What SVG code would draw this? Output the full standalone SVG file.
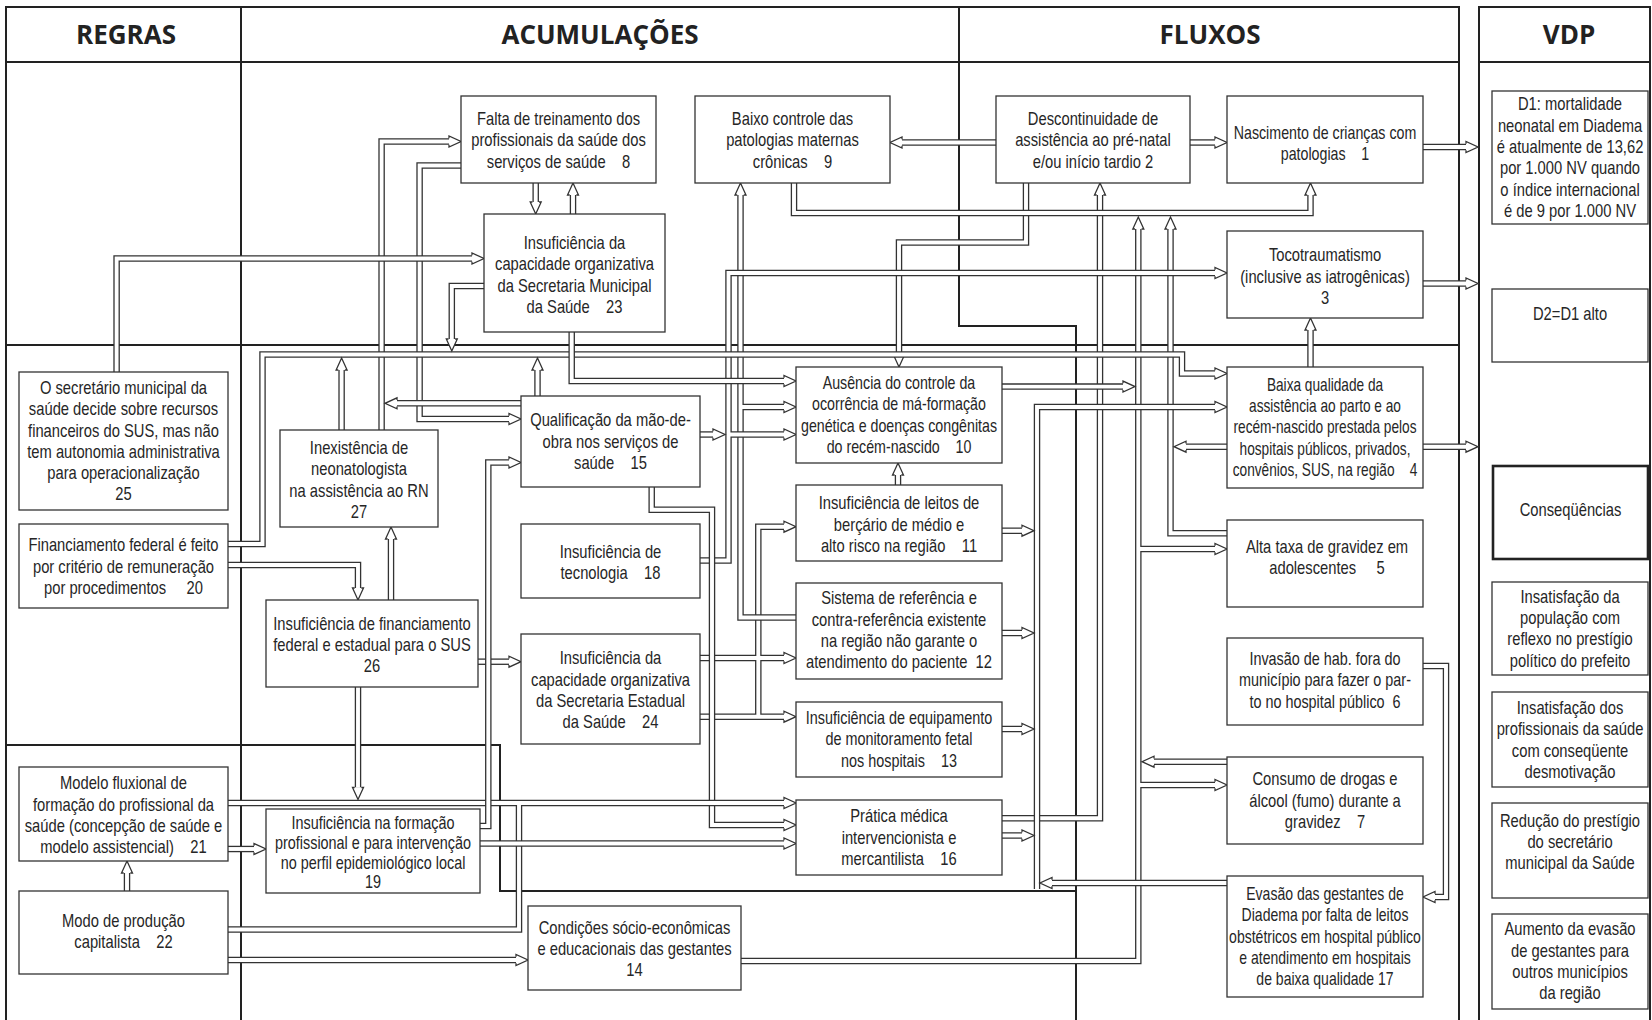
<svg xmlns="http://www.w3.org/2000/svg" xmlns:xlink="http://www.w3.org/1999/xlink" width="1652" height="1020" viewBox="0 0 1652 1020">
<style>
.f{fill:none;stroke:#222;stroke-width:2}
.n rect{fill:#fff;stroke:#333;stroke-width:1.3}
.n text{font-family:"Liberation Sans",Arial,sans-serif;font-size:18px;fill:#262626;text-anchor:middle;white-space:pre}
.h{font-family:"Open Sans","Liberation Sans",sans-serif;font-weight:700;font-size:26px;fill:#222;text-anchor:middle}
.o{fill:none;stroke:#333;stroke-width:6.5}
.i{fill:none;stroke:#fff;stroke-width:3.9}
</style>
<defs>
<path id="ah" d="M-12,-3.3 L-12,-5.5 L0,0 L-12,5.5 L-12,3.3" fill="#fff" stroke="#333" stroke-width="1.3"/>
<path id="p1138" d="M741,961 H1138.3 V229 M1138.3,549 H1215 M1138.3,785 H1215"/>
<path id="p7" d="M1227,761.7 H1154"/>
<path id="p1170" d="M1227,533.3 H1170.5 V229"/>
<path id="p4l" d="M1227,446.7 H1186"/>
<path id="p16_2" d="M1002,818.3 H1100 V195"/>
<path id="p2_10" d="M1026,183 V242.5 H899 V355"/>
<path id="p24" d="M700,658 H784 M700,716.7 H784 M758.3,716.7 V526.7 H784"/>
<path id="p12" d="M796,617.5 H740.5 V195 M740.5,407 H784"/>
<path id="p18" d="M700,560.5 H728.5 V273 H1215 M728.5,434.5 H784"/>
<path id="p15a" d="M700,434.5 H713"/>
<path id="p9_1" d="M794,183 V213 H1310.5 V195"/>
<path id="p15_16" d="M651.7,487 V509.7 H712 V825 H784"/>
<path id="p21_16" d="M228,803 H784 M228,929.5 H519 V803"/>
<path id="p19_16" d="M480,843.5 H784"/>
<path id="p26_24" d="M478,661.7 H509"/>
<path id="p19_15" d="M480,826 H488.3 V462.5 H509"/>
<path id="p27_8" d="M381.6,430 V141.5 H449"/>
<path id="p8_15" d="M461,165.5 H419.6 V419 H509"/>
<path id="pbus" d="M228,544 H262.5 V354.5 H1182 V373.5 H1215"/>
<path id="p27b" d="M341.6,430 V370"/>
<path id="p15b" d="M537.5,396 V370"/>
<path id="p23b" d="M484,286 H451.8 V339"/>
<path id="p25_23" d="M116.6,372 V258.5 H472"/>
<path id="p15l" d="M521,403.3 H397"/>
<path id="p23_10" d="M571.7,332 V381 H784"/>
<path id="p10_1138" d="M1002,386.6 H1123"/>
<path id="pcol" d="M1037,889 V407 H1215 M1002,530.7 H1022 M1002,633 H1022 M1002,729 H1022 M1002,835.5 H1022"/>
<path id="p17" d="M1227,883 H1052"/>
<path id="p2_9" d="M996,142.5 H902"/>
<path id="p2_1" d="M1190,142.5 H1215"/>
<path id="p1V" d="M1423,147 H1466"/>
<path id="p3V" d="M1423,283.5 H1466"/>
<path id="p4V" d="M1423,446.7 H1466"/>
<path id="p8_23" d="M535.7,183 V202"/>
<path id="p23_8" d="M573,214 V195"/>
<path id="p4_3" d="M1310.5,367 V330"/>
<path id="p11_10" d="M898,485 V475"/>
<path id="p20_26" d="M228,565 H358 V588"/>
<path id="p26_27" d="M391,600 V539"/>
<path id="p26_19" d="M358,687 V787.5"/>
<path id="p21_19" d="M228,849 H254"/>
<path id="p22_14" d="M228,960 H516"/>
<path id="p22_21" d="M127,891 V873"/>
<path id="p6_17" d="M1423,666 H1446 V897 H1435"/>
</defs>
<rect width="1652" height="1020" fill="#fff"/>
<g id="frame" class="f">
<path d="M6,1020 V7 H1459 V1020"/>
<path d="M6,62 H1459 M241,7 V1020 M959,7 V326 H1076 V1020 M6,345 H1459 M6,745 H500 V891 H1076"/>
<path d="M1479,1020 V7 H1650 V1020 M1479,62 H1650"/>
</g>
<g id="headers">
<text class="h" x="126" y="44">REGRAS</text>
<text class="h" x="600" y="44">ACUMULAÇÕES</text>
<text class="h" x="1210" y="44">FLUXOS</text>
<text class="h" x="1569" y="44">VDP</text>
</g>
<g id="connectors">
<g><use href="#p1138" class="o"/><use href="#p1138" class="i"/><use href="#ah" transform="translate(1138.3,217) rotate(-90)"/><use href="#ah" transform="translate(1227,549)"/><use href="#ah" transform="translate(1227,785)"/></g>
<g><use href="#p7" class="o"/><use href="#p7" class="i"/><use href="#ah" transform="translate(1142,761.7) rotate(180)"/></g>
<g><use href="#p1170" class="o"/><use href="#p1170" class="i"/><use href="#ah" transform="translate(1170.5,217) rotate(-90)"/></g>
<g><use href="#p4l" class="o"/><use href="#p4l" class="i"/><use href="#ah" transform="translate(1174,446.7) rotate(180)"/></g>
<g><use href="#p16_2" class="o"/><use href="#p16_2" class="i"/><use href="#ah" transform="translate(1100,183) rotate(-90)"/></g>
<g><use href="#p2_10" class="o"/><use href="#p2_10" class="i"/><use href="#ah" transform="translate(899,367) rotate(90)"/></g>
<g><use href="#p24" class="o"/><use href="#p24" class="i"/><use href="#ah" transform="translate(796,658)"/><use href="#ah" transform="translate(796,716.7)"/><use href="#ah" transform="translate(796,526.7)"/></g>
<g><use href="#p12" class="o"/><use href="#p12" class="i"/><use href="#ah" transform="translate(740.5,183) rotate(-90)"/><use href="#ah" transform="translate(796,407)"/></g>
<g><use href="#p18" class="o"/><use href="#p18" class="i"/><use href="#ah" transform="translate(1227,273)"/><use href="#ah" transform="translate(796,434.5)"/></g>
<g><use href="#p15a" class="o"/><use href="#p15a" class="i"/><use href="#ah" transform="translate(725,434.5)"/></g>
<g><use href="#p9_1" class="o"/><use href="#p9_1" class="i"/><use href="#ah" transform="translate(1310.5,183) rotate(-90)"/></g>
<g><use href="#p15_16" class="o"/><use href="#p15_16" class="i"/><use href="#ah" transform="translate(796,825)"/></g>
<g><use href="#p21_16" class="o"/><use href="#p21_16" class="i"/><use href="#ah" transform="translate(796,803)"/></g>
<g><use href="#p19_16" class="o"/><use href="#p19_16" class="i"/><use href="#ah" transform="translate(796,843.5)"/></g>
<g><use href="#p26_24" class="o"/><use href="#p26_24" class="i"/><use href="#ah" transform="translate(521,661.7)"/></g>
<g><use href="#p19_15" class="o"/><use href="#p19_15" class="i"/><use href="#ah" transform="translate(521,462.5)"/></g>
<g><use href="#p27_8" class="o"/><use href="#p27_8" class="i"/><use href="#ah" transform="translate(461,141.5)"/></g>
<g><use href="#p8_15" class="o"/><use href="#p8_15" class="i"/><use href="#ah" transform="translate(521,419)"/></g>
<g><use href="#pbus" class="o"/><use href="#pbus" class="i"/><use href="#ah" transform="translate(1227,373.5)"/></g>
<g><use href="#p27b" class="o"/><use href="#p27b" class="i"/><use href="#ah" transform="translate(341.6,358) rotate(-90)"/></g>
<g><use href="#p15b" class="o"/><use href="#p15b" class="i"/><use href="#ah" transform="translate(537.5,358) rotate(-90)"/></g>
<g><use href="#p23b" class="o"/><use href="#p23b" class="i"/><use href="#ah" transform="translate(451.8,351) rotate(90)"/></g>
<g><use href="#p25_23" class="o"/><use href="#p25_23" class="i"/><use href="#ah" transform="translate(484,258.5)"/></g>
<g><use href="#p15l" class="o"/><use href="#p15l" class="i"/><use href="#ah" transform="translate(385,403.3) rotate(180)"/></g>
<g><use href="#p23_10" class="o"/><use href="#p23_10" class="i"/><use href="#ah" transform="translate(796,381)"/></g>
<g><use href="#p10_1138" class="o"/><use href="#p10_1138" class="i"/><use href="#ah" transform="translate(1135,386.6)"/></g>
<g><use href="#pcol" class="o"/><use href="#pcol" class="i"/><use href="#ah" transform="translate(1227,407)"/><use href="#ah" transform="translate(1034,530.7)"/><use href="#ah" transform="translate(1034,633)"/><use href="#ah" transform="translate(1034,729)"/><use href="#ah" transform="translate(1034,835.5)"/></g>
<g><use href="#p17" class="o"/><use href="#p17" class="i"/><use href="#ah" transform="translate(1040,883) rotate(180)"/></g>
<g><use href="#p2_9" class="o"/><use href="#p2_9" class="i"/><use href="#ah" transform="translate(890,142.5) rotate(180)"/></g>
<g><use href="#p2_1" class="o"/><use href="#p2_1" class="i"/><use href="#ah" transform="translate(1227,142.5)"/></g>
<g><use href="#p1V" class="o"/><use href="#p1V" class="i"/><use href="#ah" transform="translate(1478,147)"/></g>
<g><use href="#p3V" class="o"/><use href="#p3V" class="i"/><use href="#ah" transform="translate(1478,283.5)"/></g>
<g><use href="#p4V" class="o"/><use href="#p4V" class="i"/><use href="#ah" transform="translate(1478,446.7)"/></g>
<g><use href="#p8_23" class="o"/><use href="#p8_23" class="i"/><use href="#ah" transform="translate(535.7,214) rotate(90)"/></g>
<g><use href="#p23_8" class="o"/><use href="#p23_8" class="i"/><use href="#ah" transform="translate(573,183) rotate(-90)"/></g>
<g><use href="#p4_3" class="o"/><use href="#p4_3" class="i"/><use href="#ah" transform="translate(1310.5,318) rotate(-90)"/></g>
<g><use href="#p11_10" class="o"/><use href="#p11_10" class="i"/><use href="#ah" transform="translate(898,463) rotate(-90)"/></g>
<g><use href="#p20_26" class="o"/><use href="#p20_26" class="i"/><use href="#ah" transform="translate(358,600) rotate(90)"/></g>
<g><use href="#p26_27" class="o"/><use href="#p26_27" class="i"/><use href="#ah" transform="translate(391,527) rotate(-90)"/></g>
<g><use href="#p26_19" class="o"/><use href="#p26_19" class="i"/><use href="#ah" transform="translate(358,799.5) rotate(90)"/></g>
<g><use href="#p21_19" class="o"/><use href="#p21_19" class="i"/><use href="#ah" transform="translate(266,849)"/></g>
<g><use href="#p22_14" class="o"/><use href="#p22_14" class="i"/><use href="#ah" transform="translate(528,960)"/></g>
<g><use href="#p22_21" class="o"/><use href="#p22_21" class="i"/><use href="#ah" transform="translate(127,861) rotate(-90)"/></g>
<g><use href="#p6_17" class="o"/><use href="#p6_17" class="i"/><use href="#ah" transform="translate(1423,897) rotate(180)"/></g>
</g>
<g id="n8" class="n"><rect x="461" y="96" width="195" height="87"/><g transform="translate(558.5 0) scale(0.82 1)"><text y="125.5">Falta de treinamento dos</text><text y="146.5">profissionais da saúde dos</text><text y="168">serviços de saúde    8</text></g></g>
<g id="n9" class="n"><rect x="695" y="96" width="195" height="87"/><g transform="translate(792.5 0) scale(0.82 1)"><text y="125.5">Baixo controle das</text><text y="146.5">patologias maternas</text><text y="168">crônicas    9</text></g></g>
<g id="n2" class="n"><rect x="996" y="96" width="194" height="87"/><g transform="translate(1093 0) scale(0.82 1)"><text y="125.5">Descontinuidade de</text><text y="146.5">assistência ao pré-natal</text><text y="168">e/ou início tardio 2</text></g></g>
<g id="n1" class="n"><rect x="1227" y="96" width="196" height="87"/><g transform="translate(1325 0) scale(0.79 1)"><text y="139.5">Nascimento de crianças com</text><text y="160.5">patologias    1</text></g></g>
<g id="n23" class="n"><rect x="484" y="214" width="181" height="118"/><g transform="translate(574.5 0) scale(0.82 1)"><text y="249">Insuficiência da</text><text y="270">capacidade organizativa</text><text y="292">da Secretaria Municipal</text><text y="313">da Saúde    23</text></g></g>
<g id="n3" class="n"><rect x="1227" y="231" width="196" height="87"/><g transform="translate(1325 0) scale(0.82 1)"><text y="261">Tocotraumatismo</text><text y="283.5">(inclusive as iatrogênicas)</text><text y="304">3</text></g></g>
<g id="d1" class="n"><rect x="1492" y="91" width="156" height="133"/><g transform="translate(1570 0) scale(0.82 1)"><text y="110">D1: mortalidade</text><text y="132">neonatal em Diadema</text><text y="153">é atualmente de 13,62</text><text y="174.5">por 1.000 NV quando</text><text y="196">o índice internacional</text><text y="217">é de 9 por 1.000 NV</text></g></g>
<g id="d2" class="n"><rect x="1492" y="289" width="156" height="73"/><g transform="translate(1570 0) scale(0.82 1)"><text y="320">D2=D1 alto</text></g></g>
<g id="n25" class="n"><rect x="19" y="372" width="209" height="138"/><g transform="translate(123.5 0) scale(0.82 1)"><text y="394.5">O secretário municipal da</text><text y="415.5">saúde decide sobre recursos</text><text y="437">financeiros do SUS, mas não</text><text y="458.5">tem autonomia administrativa</text><text y="479.5">para operacionalização</text><text y="500">25</text></g></g>
<g id="n20" class="n"><rect x="19" y="524" width="209" height="84"/><g transform="translate(123.5 0) scale(0.82 1)"><text y="551">Financiamento federal é feito</text><text y="573.5">por critério de remuneração</text><text y="594.5">por procedimentos     20</text></g></g>
<g id="n27" class="n"><rect x="280" y="430" width="158" height="97"/><g transform="translate(359 0) scale(0.82 1)"><text y="454.5">Inexistência de</text><text y="475.5">neonatologista</text><text y="497">na assistência ao RN</text><text y="518.5">27</text></g></g>
<g id="n26" class="n"><rect x="266" y="600" width="212" height="87"/><g transform="translate(372 0) scale(0.82 1)"><text y="630">Insuficiência de financiamento</text><text y="651">federal e estadual para o SUS</text><text y="672">26</text></g></g>
<g id="n15" class="n"><rect x="521" y="396" width="179" height="91"/><g transform="translate(610.5 0) scale(0.82 1)"><text y="426">Qualificação da mão-de-</text><text y="448.5">obra nos serviços de</text><text y="469.5">saúde    15</text></g></g>
<g id="n18" class="n"><rect x="521" y="524" width="179" height="74"/><g transform="translate(610.5 0) scale(0.82 1)"><text y="558">Insuficiência de</text><text y="579">tecnologia    18</text></g></g>
<g id="n24" class="n"><rect x="521" y="634" width="179" height="110"/><g transform="translate(610.5 0) scale(0.82 1)"><text y="664.5">Insuficiência da</text><text y="686">capacidade organizativa</text><text y="707">da Secretaria Estadual</text><text y="728.5">da Saúde    24</text></g></g>
<g id="n10" class="n"><rect x="796" y="367" width="206" height="96"/><g transform="translate(899 0) scale(0.79 1)"><text y="389.5">Ausência do controle da</text><text y="410.5">ocorrência de má-formação</text><text y="432">genética e doenças congênitas</text><text y="453">do recém-nascido    10</text></g></g>
<g id="n11" class="n"><rect x="796" y="485" width="206" height="76"/><g transform="translate(899 0) scale(0.82 1)"><text y="509.5">Insuficiência de leitos de</text><text y="531">berçário de médio e</text><text y="552">alto risco na região    11</text></g></g>
<g id="n12" class="n"><rect x="796" y="583" width="206" height="96"/><g transform="translate(899 0) scale(0.82 1)"><text y="604.5">Sistema de referência e</text><text y="626">contra-referência existente</text><text y="647.5">na região não garante o</text><text y="668">atendimento do paciente  12</text></g></g>
<g id="n13" class="n"><rect x="796" y="702" width="206" height="75"/><g transform="translate(899 0) scale(0.8 1)"><text y="724.5">Insuficiência de equipamento</text><text y="745.5">de monitoramento fetal</text><text y="767">nos hospitais    13</text></g></g>
<g id="n16" class="n"><rect x="796" y="800" width="206" height="75"/><g transform="translate(899 0) scale(0.82 1)"><text y="822">Prática médica</text><text y="844">intervencionista e</text><text y="865">mercantilista    16</text></g></g>
<g id="n14" class="n"><rect x="528" y="906" width="213" height="84"/><g transform="translate(634.5 0) scale(0.82 1)"><text y="934.5">Condições sócio-econômicas</text><text y="955.5">e educacionais das gestantes</text><text y="976">14</text></g></g>
<g id="n4" class="n"><rect x="1227" y="367" width="196" height="121"/><g transform="translate(1325 0) scale(0.76 1)"><text y="391">Baixa qualidade da</text><text y="412">assistência ao parto e ao</text><text y="433.5">recém-nascido prestada pelos</text><text y="455">hospitais públicos, privados,</text><text y="476">convênios, SUS, na região    4</text></g></g>
<g id="n5" class="n"><rect x="1227" y="520" width="196" height="87"/><g transform="translate(1327 0) scale(0.82 1)"><text y="553.5">Alta taxa de gravidez em</text><text y="574.5">adolescentes     5</text></g></g>
<g id="n6" class="n"><rect x="1227" y="638" width="196" height="87"/><g transform="translate(1325 0) scale(0.8 1)"><text y="665.5">Invasão de hab. fora do</text><text y="686">município para fazer o par-</text><text y="708">to no hospital público  6</text></g></g>
<g id="n7" class="n"><rect x="1227" y="757" width="196" height="87"/><g transform="translate(1325 0) scale(0.82 1)"><text y="785.5">Consumo de drogas e</text><text y="807">álcool (fumo) durante a</text><text y="828">gravidez    7</text></g></g>
<g id="n17" class="n"><rect x="1227" y="876" width="196" height="121"/><g transform="translate(1325 0) scale(0.78 1)"><text y="900.5">Evasão das gestantes de</text><text y="921.5">Diadema por falta de leitos</text><text y="943">obstétricos em hospital público</text><text y="964.5">e atendimento em hospitais</text><text y="985.5">de baixa qualidade 17</text></g></g>
<g id="cons" class="n"><rect x="1493" y="466" width="155" height="93" style="stroke:#222;stroke-width:2.6"/><g transform="translate(1570.5 0) scale(0.82 1)"><text y="516">Conseqüências</text></g></g>
<g id="c1" class="n"><rect x="1492" y="582" width="156" height="93"/><g transform="translate(1570 0) scale(0.82 1)"><text y="603.5">Insatisfação da</text><text y="624.5">população com</text><text y="645.5">reflexo no prestígio</text><text y="667">político do prefeito</text></g></g>
<g id="c2" class="n"><rect x="1492" y="692" width="156" height="95"/><g transform="translate(1570 0) scale(0.82 1)"><text y="714.5">Insatisfação dos</text><text y="735.5">profissionais da saúde</text><text y="757">com conseqüente</text><text y="778">desmotivação</text></g></g>
<g id="c3" class="n"><rect x="1492" y="803" width="156" height="95"/><g transform="translate(1570 0) scale(0.82 1)"><text y="827">Redução do prestígio</text><text y="848.5">do secretário</text><text y="869.5">municipal da Saúde</text></g></g>
<g id="c4" class="n"><rect x="1492" y="914" width="156" height="95"/><g transform="translate(1570 0) scale(0.82 1)"><text y="935.5">Aumento da evasão</text><text y="957">de gestantes para</text><text y="978.5">outros municípios</text><text y="999.5">da região</text></g></g>
<g id="n21" class="n"><rect x="19" y="767" width="209" height="94"/><g transform="translate(123.5 0) scale(0.82 1)"><text y="789.5">Modelo fluxional de</text><text y="811">formação do profissional da</text><text y="832">saúde (concepção de saúde e</text><text y="853">modelo assistencial)    21</text></g></g>
<g id="n22" class="n"><rect x="19" y="891" width="209" height="83"/><g transform="translate(123.5 0) scale(0.82 1)"><text y="927">Modo de produção</text><text y="948">capitalista    22</text></g></g>
<g id="n19" class="n"><rect x="266" y="809" width="214" height="84"/><g transform="translate(373 0) scale(0.8 1)"><text y="829">Insuficiência na formação</text><text y="849">profissional e para intervenção</text><text y="869">no perfil epidemiológico local</text><text y="888">19</text></g></g>
</svg>
